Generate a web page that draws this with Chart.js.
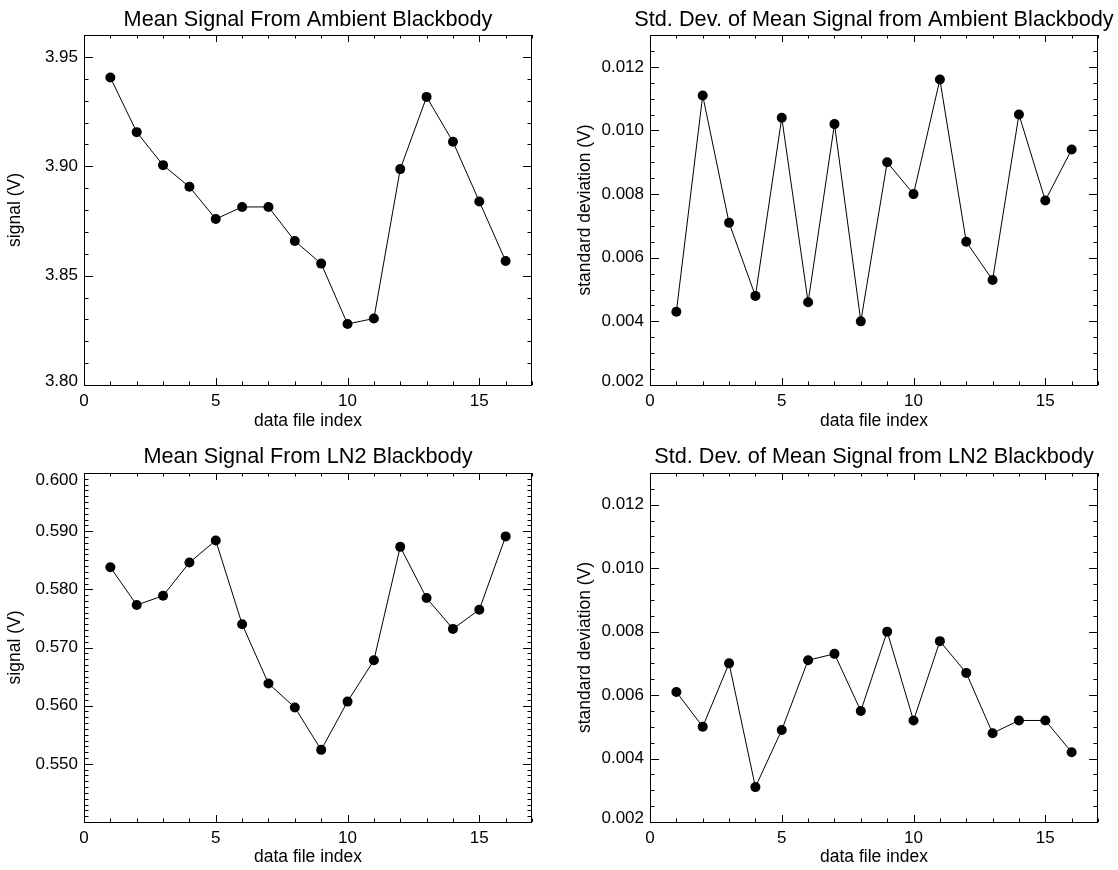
<!DOCTYPE html>
<html>
<head>
<meta charset="utf-8">
<script src="https://cdn.jsdelivr.net/npm/chart.js@4.4.1/dist/chart.umd.min.js"></script>
<style>
  html, body { margin: 0; padding: 0; background: #fff; }
  #page { position: relative; width: 1118px; height: 870px; }
  canvas { position: absolute; }
</style>
</head>
<body>
<div id="page">
  <canvas id="ambient-signal" width="559" height="435" style="left:0;top:0"></canvas>
  <canvas id="ambient-std" width="559" height="435" style="left:559px;top:0"></canvas>
  <canvas id="ln2-signal" width="559" height="435" style="left:0;top:435px"></canvas>
  <canvas id="ln2-std" width="559" height="435" style="left:559px;top:435px"></canvas>
</div>
<script>
// --- data ---
const fileIndex = [1, 2, 3, 4, 5, 6, 7, 8, 9, 10, 11, 12, 13, 14, 15, 16];

const ambientSignal = [3.9406, 3.9156, 3.9005, 3.8906, 3.8759, 3.8814, 3.8814, 3.8658,
  3.8555, 3.8279, 3.8304, 3.8987, 3.9317, 3.9112, 3.8839, 3.8567];
const ambientStd = [0.0043, 0.0111, 0.0071, 0.0048, 0.0104, 0.0046, 0.0102, 0.0040,
  0.0090, 0.0080, 0.0116, 0.0065, 0.0053, 0.0105, 0.0078, 0.0094];
const ln2Signal = [0.5838, 0.5773, 0.5789, 0.5846, 0.5884, 0.5740, 0.5638, 0.5597,
  0.5524, 0.5607, 0.5678, 0.5873, 0.5785, 0.5732, 0.5765, 0.5891];
const ln2Std = [0.0061, 0.0050, 0.0070, 0.0031, 0.0049, 0.0071, 0.0073, 0.0055,
  0.0080, 0.0052, 0.0077, 0.0067, 0.0048, 0.0052, 0.0052, 0.0042];

// labelled (major) ticks
const indexTicks = [0, 5, 10, 15];
const ambientSignalTicks = [3.80, 3.85, 3.90, 3.95];
const stdTicks = [0.002, 0.004, 0.006, 0.008, 0.010, 0.012];
const ln2SignalTicks = [0.550, 0.560, 0.570, 0.580, 0.590, 0.600];

Chart.defaults.font.family = "'Liberation Sans', Arial, Helvetica, sans-serif";
Chart.defaults.color = "#000";

const byId = (id) => document.getElementById(id);
const isMajor = (v, list, tol) => list.some((t) => Math.abs(t - v) < tol);

// IDL-style box: frame on all four sides with inward major/minor ticks
const frameTicks = {
  id: "frameTicks",
  afterLayout(chart) {
    // title stays centred on the plot box but may be wider than it
    const tb = chart.titleBlock;
    if (tb) {
      tb.left -= 60;
      tb.right += 60;
    }
  },
  afterUpdate(chart) {
    // IDL keeps the end labels inside the box: nudge the ones sitting on the edges
    const { chartArea: a, scales: { y } } = chart;
    y.getLabelItems().forEach((item) => {
      if (!item.label) return;
      const tr = item.options.translation;
      if (Math.abs(tr[1] - a.top) < 1) tr[1] = a.top + 7.5;
      else if (Math.abs(tr[1] - a.bottom) < 1) tr[1] = a.bottom - 3.5;
    });
  },
  afterDatasetsDraw(chart, args, opts) {
    const { ctx, chartArea: a, scales: { x, y } } = chart;
    ctx.save();
    ctx.strokeStyle = "#000";
    ctx.lineWidth = 1;
    ctx.beginPath();
    x.ticks.forEach((t) => {
      const px = Math.round(x.getPixelForValue(t.value)) + 0.5;
      const len = isMajor(t.value, opts.xMajor, 1e-6) ? 7 : 3.5;
      ctx.moveTo(px, a.bottom);
      ctx.lineTo(px, a.bottom - len);
      ctx.moveTo(px, a.top);
      ctx.lineTo(px, a.top + len);
    });
    y.ticks.forEach((t) => {
      const py = Math.round(y.getPixelForValue(t.value)) + 0.5;
      const len = isMajor(t.value, opts.yMajor, opts.yTol) ? 9 : 4.5;
      ctx.moveTo(a.left, py);
      ctx.lineTo(a.left + len, py);
      ctx.moveTo(a.right, py);
      ctx.lineTo(a.right - len, py);
    });
    ctx.stroke();
    ctx.strokeRect(a.left + 0.5, a.top + 0.5, a.right - a.left - 1, a.bottom - a.top);
    ctx.restore();
  }
};

const makePanel = (id, cfg) => {
  const tol = cfg.yStep / 10;
  return new Chart(byId(id), {
    type: "line",
    data: {
      datasets: [{
        data: fileIndex.map((x, i) => ({ x, y: cfg.values[i] })),
        borderColor: "#000",
        borderWidth: 1,
        pointRadius: 5,
        pointHoverRadius: 5,
        pointBackgroundColor: "#000",
        pointBorderWidth: 0,
        tension: 0
      }]
    },
    options: {
      responsive: false,
      animation: false,
      events: [],
      layout: { padding: { left: 0, right: cfg.padRight, top: 0, bottom: 0 } },
      scales: {
        x: {
          type: "linear",
          min: 0,
          max: 17,
          grid: { display: false, drawTicks: false },
          border: { display: false },
          ticks: {
            stepSize: 1,
            autoSkip: false,
            maxRotation: 0,
            padding: 6,
            font: { size: 17 },
            callback: (v) => (indexTicks.includes(v) ? String(v) : "")
          },
          title: {
            display: true,
            text: "data file index",
            font: { size: 17.5 },
            padding: { top: 0, bottom: cfg.xTitlePad }
          },
          afterFit: (s) => { s.height = cfg.xHeight; }
        },
        y: {
          type: "linear",
          min: cfg.yMin,
          max: cfg.yMax,
          grid: { display: false, drawTicks: false },
          border: { display: false },
          ticks: {
            stepSize: cfg.yStep,
            autoSkip: false,
            padding: 6,
            font: { size: 17 },
            callback: (v) => {
              const lab = cfg.yTicks.find((t) => Math.abs(t - v) < tol);
              return lab === undefined ? "" : lab.toFixed(cfg.decimals);
            }
          },
          title: {
            display: true,
            text: cfg.yTitle,
            font: { size: 17.5 },
            padding: { top: cfg.yTitlePad, bottom: 0 }
          },
          afterFit: (s) => { s.width = cfg.yWidth; }
        }
      },
      plugins: {
        legend: { display: false },
        tooltip: { enabled: false },
        title: {
          display: true,
          text: cfg.title,
          fullSize: false,
          color: "#000",
          font: { size: 21.7, weight: "normal" },
          padding: cfg.titlePad
        },
        frameTicks: { xMajor: indexTicks, yMajor: cfg.yTicks, yTol: tol }
      }
    },
    plugins: [frameTicks]
  });
};

makePanel("ambient-signal", {
  title: "Mean Signal From Ambient Blackbody",
  yTitle: "signal (V)",
  values: ambientSignal,
  yMin: 3.80, yMax: 3.96, yStep: 0.01, yTicks: ambientSignalTicks, decimals: 2,
  yWidth: 84, xHeight: 50, padRight: 27, yTitlePad: 5, xTitlePad: 3,
  titlePad: { top: 7, bottom: 1.96 }
});

makePanel("ambient-std", {
  title: "Std. Dev. of Mean Signal from Ambient Blackbody",
  yTitle: "standard deviation (V)",
  values: ambientStd,
  yMin: 0.002, yMax: 0.013, yStep: 0.0005, yTicks: stdTicks, decimals: 3,
  yWidth: 91, xHeight: 50, padRight: 20, yTitlePad: 15.5, xTitlePad: 3,
  titlePad: { top: 7, bottom: 1.96 }
});

makePanel("ln2-signal", {
  title: "Mean Signal From LN2 Blackbody",
  yTitle: "signal (V)",
  values: ln2Signal,
  yMin: 0.540, yMax: 0.600, yStep: 0.001, yTicks: ln2SignalTicks, decimals: 3,
  yWidth: 84, xHeight: 48, padRight: 27, yTitlePad: 5, xTitlePad: 2.8,
  titlePad: { top: 9.4, bottom: 2.56 }
});

makePanel("ln2-std", {
  title: "Std. Dev. of Mean Signal from LN2 Blackbody",
  yTitle: "standard deviation (V)",
  values: ln2Std,
  yMin: 0.002, yMax: 0.013, yStep: 0.0005, yTicks: stdTicks, decimals: 3,
  yWidth: 91, xHeight: 48, padRight: 20, yTitlePad: 15.5, xTitlePad: 2.8,
  titlePad: { top: 9.4, bottom: 2.56 }
});
</script>
</body>
</html>
